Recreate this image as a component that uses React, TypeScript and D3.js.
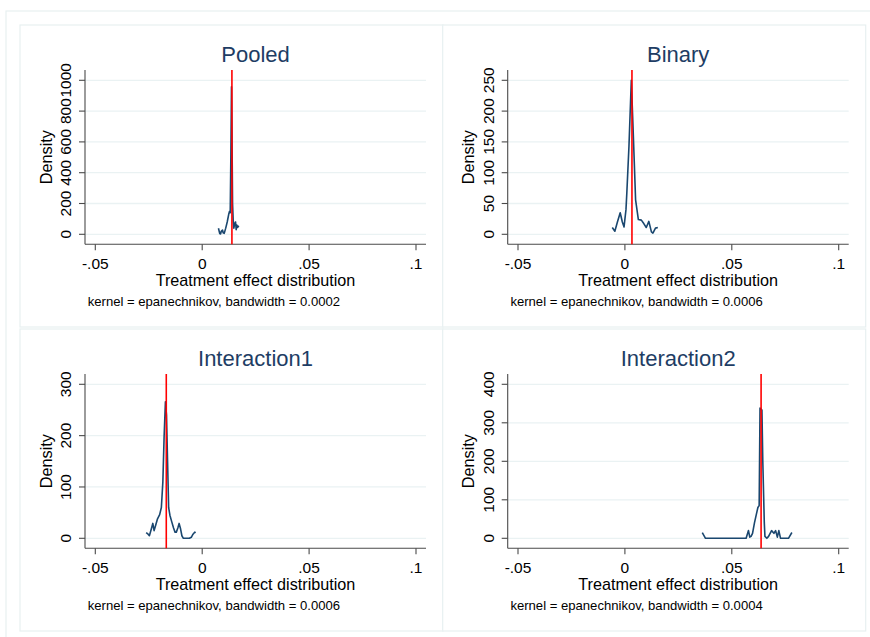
import React from "react";
import * as d3 from "d3";

// ---------- data ----------
const panelTitles = ["Pooled", "Binary", "Interaction1", "Interaction2"];
const bandwidths = ["0.0002", "0.0006", "0.0006", "0.0004"];
const xTicks = [-0.05, 0, 0.05, 0.1];
const xTickLabels = ["-.05", "0", ".05", ".1"];
const pooledYTicks = [0, 200, 400, 600, 800, 1000];
const binaryYTicks = [0, 50, 100, 150, 200, 250];
const inter1YTicks = [0, 100, 200, 300];
const inter2YTicks = [0, 100, 200, 300, 400];
const meanEffects = [0.0139, 0.0033, -0.0168, 0.0637];

const pooledCurve: [number, number][] = [
  [0.0076, 39], [0.0082, 5], [0.0086, 2], [0.0089, 20], [0.0095, 28], [0.0098, 10],
  [0.0103, 6], [0.011, 40], [0.0117, 80], [0.0124, 130], [0.0128, 150], [0.0131, 140],
  [0.0134, 500], [0.0137, 958], [0.0139, 700], [0.0142, 200], [0.0145, 90], [0.0148, 40],
  [0.0152, 70], [0.0156, 80], [0.0159, 30], [0.0162, 60], [0.0166, 45], [0.0171, 55],
];
const binaryCurve: [number, number][] = [
  [-0.0059, 11], [-0.0047, 5], [-0.0035, 20], [-0.0022, 35], [-0.0012, 20], [-0.0004, 12],
  [0.0005, 40], [0.0009, 67], [0.0019, 143], [0.003, 250], [0.0038, 175], [0.005, 56],
  [0.0063, 24], [0.0077, 23], [0.0089, 17], [0.01, 11], [0.0112, 21], [0.0124, 4],
  [0.0131, 2], [0.0143, 10], [0.0154, 11],
];
const inter1Curve: [number, number][] = [
  [-0.0262, 11], [-0.0253, 8], [-0.0247, 5], [-0.0238, 18], [-0.0231, 29], [-0.0225, 15],
  [-0.0218, 25], [-0.0209, 38], [-0.0199, 46], [-0.0191, 60], [-0.0184, 110], [-0.0178, 200],
  [-0.0172, 266], [-0.0167, 240], [-0.0162, 150], [-0.0157, 60], [-0.0151, 45], [-0.0143, 33],
  [-0.0134, 20], [-0.0127, 12], [-0.0121, 12], [-0.0114, 20], [-0.0108, 29], [-0.0101, 18],
  [-0.0095, 5], [-0.0088, 0], [-0.0079, 0], [-0.006, 0], [-0.0051, 2], [-0.0043, 8],
  [-0.0035, 12], [-0.003, 11],
];
const inter2Curve: [number, number][] = [
  [0.0362, 15], [0.0377, 0], [0.0567, 0], [0.0578, 20], [0.0584, 3], [0.059, 5],
  [0.0597, 13], [0.0606, 40], [0.0614, 60], [0.0622, 80], [0.0628, 85], [0.0632, 338],
  [0.0641, 333], [0.0645, 200], [0.0652, 40], [0.0655, 5], [0.0664, 0], [0.0672, 5],
  [0.0686, 20], [0.0697, 13], [0.0705, 20], [0.0713, 3], [0.072, 20], [0.0728, 0],
  [0.0765, 0], [0.0781, 15],
];

const curves = [pooledCurve, binaryCurve, inter1Curve, inter2Curve];
const yTickSets = [pooledYTicks, binaryYTicks, inter1YTicks, inter2YTicks];

// ---------- style ----------
const FONT = "'Liberation Sans', Arial, Helvetica, sans-serif";
const GRID = "#eaf2f3";
const FRAME = "#e8f0f1";
const AXIS = "#4a4a4a";
const NAVY = "#1a476f";
const TITLE = "#1e3d64";

const W = 870;
const H = 637;

function Panel({ idx, ox, oy }: { idx: number; ox: number; oy: number }) {
  const yTicks = yTickSets[idx];
  const yMax = yTicks[yTicks.length - 1];
  const plotL = 85, plotR = 426, plotT = 70, plotB = 244.3;
  const x = d3.scaleLinear().domain([-0.05, 0.1]).range([95.3, 416]);
  const y = d3.scaleLinear().domain([0, yMax]).range([234.3, 80.3]);
  const line = d3
    .line<[number, number]>()
    .x((d) => x(d[0]))
    .y((d) => y(d[1]));
  const cx = (plotL + plotR) / 2;
  const cy = (plotT + plotB) / 2;
  return (
    <g transform={`translate(${ox},${oy})`}>
      <rect x={20} y={25} width={423} height={302} fill="#fff" stroke={FRAME} strokeWidth={1.2} />
      {yTicks.map((t) => (
        <line key={"g" + t} x1={plotL} x2={plotR} y1={y(t)} y2={y(t)} stroke={GRID} strokeWidth={1.3} />
      ))}
      {/* axes */}
      <line x1={plotL} x2={plotL} y1={plotT} y2={plotB} stroke={AXIS} strokeWidth={1.1} />
      <line x1={plotL} x2={plotR} y1={plotB} y2={plotB} stroke={AXIS} strokeWidth={1.1} />
      {yTicks.map((t) => (
        <g key={"y" + t}>
          <line x1={plotL - 6} x2={plotL} y1={y(t)} y2={y(t)} stroke={AXIS} strokeWidth={1.1} />
          <text
            transform={`translate(${plotL - 14},${y(t)}) rotate(-90)`}
            textAnchor="middle"
            fontSize={15.5}
            fontFamily={FONT}
            fill="#000"
          >
            {String(t)}
          </text>
        </g>
      ))}
      {xTicks.map((t, i) => (
        <g key={"x" + t}>
          <line x1={x(t)} x2={x(t)} y1={plotB} y2={plotB + 6} stroke={AXIS} strokeWidth={1.1} />
          <text x={x(t)} y={plotB + 25} textAnchor="middle" fontSize={15.5} fontFamily={FONT} fill="#000">
            {xTickLabels[i]}
          </text>
        </g>
      ))}
      {/* curve */}
      <path d={line(curves[idx]) || ""} fill="none" stroke={NAVY} strokeWidth={1.6} strokeLinejoin="round" />
      {/* mean line */}
      <line
        x1={x(meanEffects[idx])}
        x2={x(meanEffects[idx])}
        y1={plotT}
        y2={plotB}
        stroke="#ff0000"
        strokeWidth={1.6}
      />
      {/* titles */}
      <text x={cx} y={plotT - 8.3} textAnchor="middle" fontSize={22} fontFamily={FONT} fill={TITLE}>
        {panelTitles[idx]}
      </text>
      <text x={cx} y={plotB + 41.7} textAnchor="middle" fontSize={16.2} fontFamily={FONT} fill="#000">
        Treatment effect distribution
      </text>
      <text
        transform={`translate(${plotL - 33.3},${cy}) rotate(-90)`}
        textAnchor="middle"
        fontSize={16.3}
        fontFamily={FONT}
        fill="#000"
      >
        Density
      </text>
      <text x={plotL + 2.7} y={plotB + 61.7} fontSize={13.1} fontFamily={FONT} fill="#000">
        {`kernel = epanechnikov, bandwidth = ${bandwidths[idx]}`}
      </text>
    </g>
  );
}

export default function App() {
  const offsets = [
    [0, 0],
    [422.7, 0],
    [0, 304],
    [422.7, 304],
  ];
  return (
    <svg
      width={W}
      height={H}
      style={{ position: "absolute", left: 0, top: 0, background: "#fff" }}
    >
      <rect x={0} y={0} width={W} height={H} fill="#fff" />
      <rect x={6} y={11} width={W + 20} height={H + 20} fill="#fff" stroke={FRAME} strokeWidth={1.2} />
      {offsets.map((o, i) => (
        <Panel key={i} idx={i} ox={o[0]} oy={o[1]} />
      ))}
    </svg>
  );
}
